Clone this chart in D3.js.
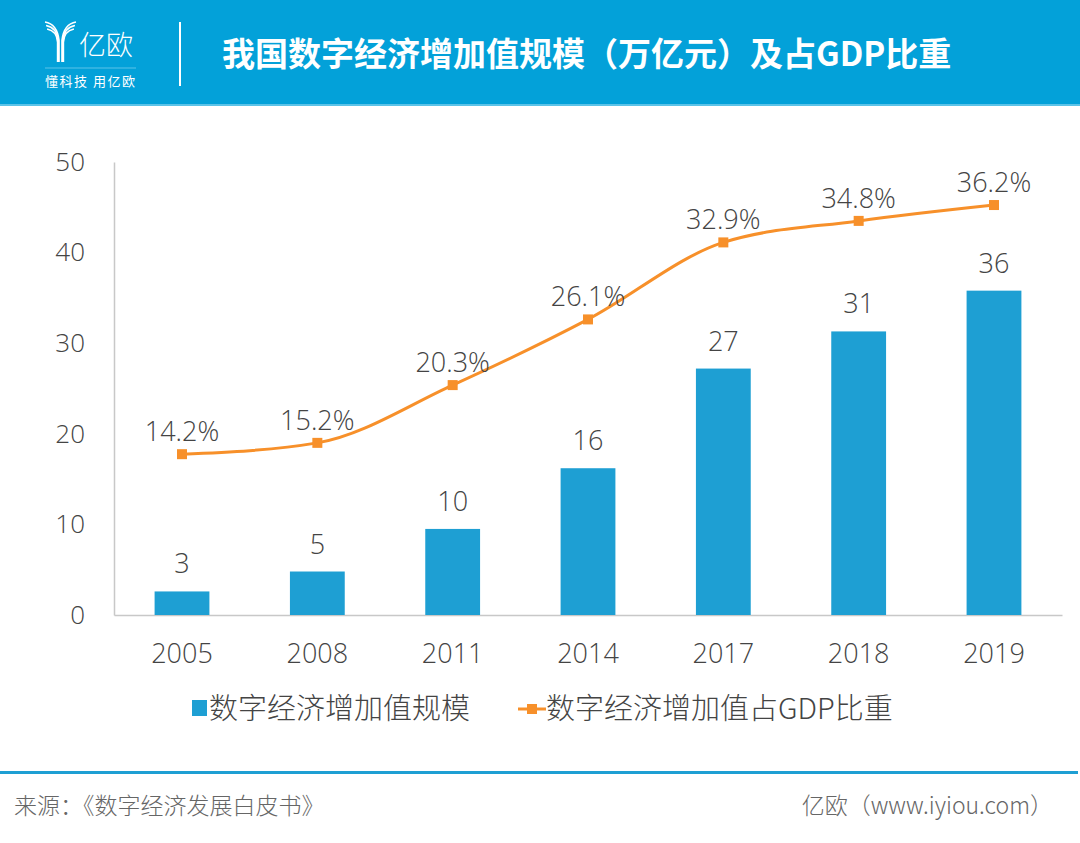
<!DOCTYPE html>
<html><head><meta charset="utf-8">
<script src="https://cdn.jsdelivr.net/npm/d3@7"></script>
<style>
html,body{margin:0;padding:0;background:#fff;}
svg{display:block;}
</style></head>
<body><svg id="c" width="1080" height="843"></svg>
<script>
const years = ["2005","2008","2011","2014","2017","2018","2019"];
const scaleValues = [2.6, 4.8, 9.5, 16.2, 27.2, 31.3, 35.8];
const scaleLabels = ["3","5","10","16","27","31","36"];
const shareValues = [14.2, 15.2, 20.3, 26.1, 32.9, 34.8, 36.2];
const yTicks = [0,10,20,30,40,50];
const title = "我国数字经济增加值规模（万亿元）及占GDP比重";
const legendNames = ["数字经济增加值规模","数字经济增加值占GDP比重"];
const sourceText = "来源：《数字经济发展白皮书》";
const siteText = "亿欧（www.iyiou.com）";

const svg = d3.select("#c");
const font = "'Open Sans','Noto Sans CJK SC',sans-serif";
const cjk = "'Noto Sans CJK SC','Noto Sans',sans-serif";
const blue = "#1e9fd3", orange = "#f7902a", txt = "#444";

// header
svg.append("rect").attr("x",0).attr("y",0).attr("width",1080).attr("height",105).attr("fill","#03a1d9");
svg.append("rect").attr("x",0).attr("y",104).attr("width",1080).attr("height",2).attr("fill","#5cc3e8");
// logo
const lg = svg.append("g").attr("fill","none").attr("stroke","#fff").attr("stroke-width",1.6);
[0,3.5,7].forEach(o=>{
  lg.append("path").attr("d",`M${45+o*0.3},${22+o} Q${57},${24+o} ${59-o*0.2},${40+o*0.3} L${59-o*0.2},${62}`);
});
[0,3.5,7].forEach(o=>{
  lg.append("path").attr("d",`M${76-o*0.3},${22+o} Q${64},${24+o} ${62+o*0.2},${40+o*0.3} L${62+o*0.2},${62}`);
});
svg.append("text").attr("x",79).attr("y",55).attr("fill","#fff").attr("font-family",cjk).attr("font-weight",300).attr("font-size",27).text("亿欧");
svg.append("line").attr("x1",45).attr("x2",136).attr("y1",68).attr("y2",68).attr("stroke","#5cc3e8").attr("stroke-width",1);
svg.append("text").attr("x",45).attr("y",86).attr("fill","#fff").attr("font-family",cjk).attr("font-size",13).attr("letter-spacing",1.5).text("懂科技 用亿欧");
svg.append("line").attr("x1",180).attr("x2",180).attr("y1",22).attr("y2",86).attr("stroke","#fff").attr("stroke-width",2);
svg.append("text").attr("x",222).attr("y",66).attr("fill","#fff").attr("font-family",cjk).attr("font-weight",700).attr("font-size",33).text(title);

// scales
const x = d3.scaleBand().domain(years).range([114,1062]).paddingInner(0.595).paddingOuter(0.3);
const y = d3.scaleLinear().domain([0,50]).range([615,162]);
const y2 = d3.scaleLinear().domain([0,40]).range([615,162]);

// axes
const yAxis = svg.append("g").attr("transform","translate(114,0)").call(d3.axisLeft(y).tickValues(yTicks).tickSize(0).tickPadding(29));
yAxis.select(".domain").attr("stroke","#c8c8c8").attr("stroke-width",1.5);
yAxis.selectAll("text").attr("font-family",font).attr("font-size",26).attr("fill",txt).attr("font-weight",300);
const xAxis = svg.append("g").attr("transform","translate(0,615)").call(d3.axisBottom(x).tickSize(0).tickPadding(29));
xAxis.select(".domain").attr("stroke","#c8c8c8").attr("stroke-width",1.5);
xAxis.selectAll("text").attr("font-family",font).attr("font-size",27).attr("fill",txt).attr("font-weight",300);

// bars
svg.append("g").selectAll("rect").data(years).join("rect")
  .attr("x",d=>x(d)).attr("width",x.bandwidth())
  .attr("y",(d,i)=>y(scaleValues[i])).attr("height",(d,i)=>y(0)-y(scaleValues[i]))
  .attr("fill",blue);
svg.append("g").selectAll("text").data(years).join("text")
  .attr("x",d=>x(d)+x.bandwidth()/2).attr("y",(d,i)=>y(scaleValues[i])-18)
  .attr("text-anchor","middle").attr("font-family",font).attr("font-size",27).attr("fill",txt).attr("font-weight",300)
  .text((d,i)=>scaleLabels[i]);

// line
const line = d3.line().x((d,i)=>x(years[i])+x.bandwidth()/2).y(d=>y2(d)).curve(d3.curveMonotoneX);
svg.append("path").datum(shareValues).attr("d",line).attr("fill","none").attr("stroke",orange).attr("stroke-width",3);
svg.append("g").selectAll("rect").data(shareValues).join("rect")
  .attr("x",(d,i)=>x(years[i])+x.bandwidth()/2-5).attr("y",d=>y2(d)-5)
  .attr("width",10).attr("height",10).attr("fill",orange);
svg.append("g").selectAll("text").data(shareValues).join("text")
  .attr("x",(d,i)=>x(years[i])+x.bandwidth()/2).attr("y",d=>y2(d)-13)
  .attr("text-anchor","middle").attr("font-family",font).attr("font-size",27).attr("fill",txt).attr("font-weight",300)
  .text(d=>d.toFixed(1)+"%");

// legend
svg.append("rect").attr("x",192).attr("y",700).attr("width",15).attr("height",16).attr("fill",blue);
svg.append("text").attr("x",209).attr("y",719).attr("font-family",cjk).attr("font-size",29).attr("fill",txt).attr("font-weight",300).text(legendNames[0]);
svg.append("line").attr("x1",518).attr("x2",546).attr("y1",709).attr("y2",709).attr("stroke",orange).attr("stroke-width",3);
svg.append("rect").attr("x",527).attr("y",704).attr("width",10).attr("height",10).attr("fill",orange);
svg.append("text").attr("x",546).attr("y",719).attr("font-family",cjk).attr("font-size",29).attr("fill",txt).attr("font-weight",300).text(legendNames[1]);

// footer
svg.append("rect").attr("x",0).attr("y",771).attr("width",1078).attr("height",3).attr("fill",blue);
svg.append("text").attr("x",14).attr("y",814).attr("font-family",cjk).attr("font-size",23).attr("fill","#666").attr("font-weight",300).text(sourceText);
svg.append("text").attr("x",1053).attr("y",814).attr("text-anchor","end").attr("font-family",cjk).attr("font-size",23).attr("fill","#666").attr("font-weight",300).text(siteText);
</script></body></html>
